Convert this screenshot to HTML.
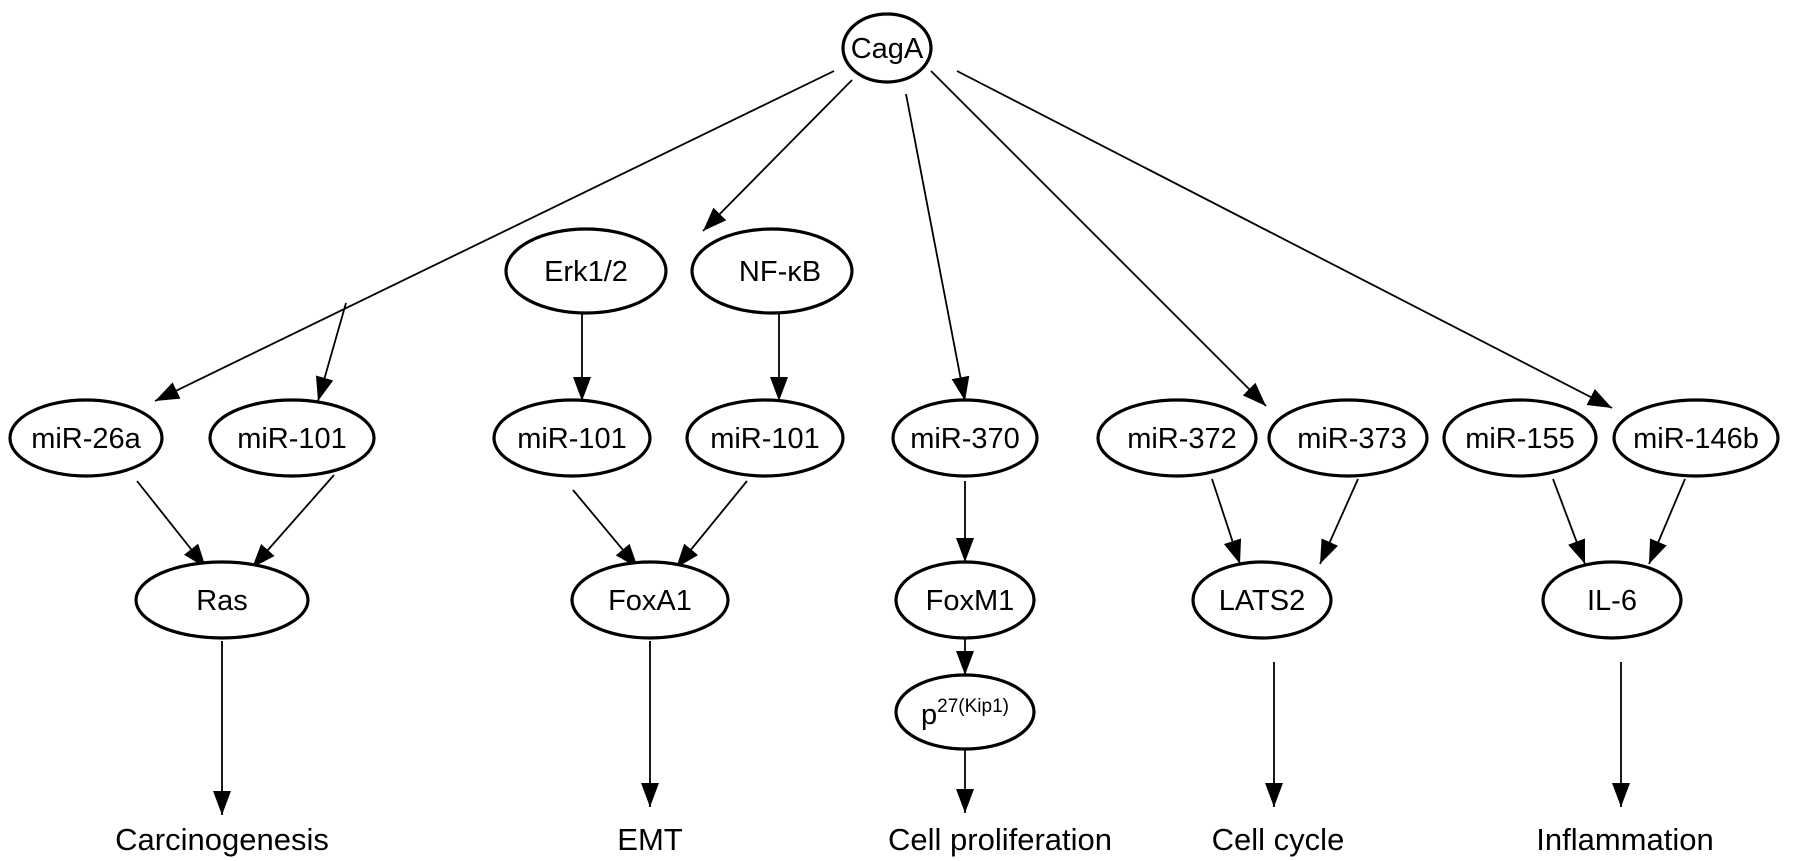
<!DOCTYPE html>
<html><head><meta charset="utf-8"><style>
html,body{margin:0;padding:0;background:#fff;}
svg{display:block}
text{font-family:"Liberation Sans Narrow","Liberation Sans",sans-serif;fill:#000;text-anchor:middle;}
.n{font-size:29px}
.l{font-size:31px}
ellipse{fill:#fff;stroke:#000;stroke-width:3.2}
line{stroke:#000;stroke-width:1.8}
</style></head><body>
<svg width="1795" height="861" viewBox="0 0 1795 861" xmlns="http://www.w3.org/2000/svg">
<defs>
<marker id="b" viewBox="0 0 10 10" refX="10" refY="5" markerWidth="24" markerHeight="18" markerUnits="userSpaceOnUse" orient="auto" preserveAspectRatio="none"><path d="M0,0L10,5L0,10z" fill="#000"/></marker></defs>
<g marker-end="url(#b)">
<line x1="834" y1="71" x2="155" y2="401"/>
<line x1="346" y1="303" x2="318" y2="401"/>
<line x1="852" y1="80" x2="703" y2="231"/>
<line x1="906" y1="94" x2="965" y2="401"/>
<line x1="931" y1="71" x2="1266" y2="406"/>
<line x1="957" y1="71" x2="1612" y2="408"/>
<line x1="582" y1="314" x2="582" y2="401"/>
<line x1="779" y1="314" x2="779" y2="401"/>
<line x1="137" y1="481" x2="206" y2="568"/>
<line x1="334" y1="475" x2="252" y2="568"/>
<line x1="573" y1="490" x2="638" y2="568"/>
<line x1="747" y1="481" x2="676" y2="568"/>
<line x1="965" y1="481" x2="965" y2="562"/>
<line x1="965" y1="637" x2="965" y2="675"/>
<line x1="965" y1="749" x2="965" y2="813"/>
<line x1="222" y1="641" x2="222" y2="815"/>
<line x1="650" y1="641" x2="650" y2="807"/>
<line x1="1212" y1="479" x2="1240" y2="564"/>
<line x1="1358" y1="479" x2="1320" y2="564"/>
<line x1="1274" y1="662" x2="1274" y2="807"/>
<line x1="1553" y1="479" x2="1585" y2="564"/>
<line x1="1685" y1="479" x2="1649" y2="564"/>
<line x1="1621" y1="662" x2="1621" y2="807"/>
</g>
<ellipse cx="887" cy="48" rx="44" ry="34"/><text class="n" x="887" y="58">CagA</text>
<ellipse cx="586" cy="271" rx="80" ry="42"/><text class="n" x="586" y="281">Erk1/2</text>
<ellipse cx="772" cy="271" rx="80" ry="42"/><text class="n" x="780" y="281">NF-κB</text>
<ellipse cx="86" cy="438" rx="76" ry="38"/><text class="n" x="86" y="448">miR-26a</text>
<ellipse cx="292" cy="438" rx="82" ry="38"/><text class="n" x="292" y="448">miR-101</text>
<ellipse cx="572" cy="438" rx="78" ry="38"/><text class="n" x="572" y="448">miR-101</text>
<ellipse cx="765" cy="438" rx="78" ry="38"/><text class="n" x="765" y="448">miR-101</text>
<ellipse cx="965" cy="438" rx="72" ry="38"/><text class="n" x="965" y="448">miR-370</text>
<ellipse cx="1177" cy="438" rx="79" ry="38"/><text class="n" x="1182" y="448">miR-372</text>
<ellipse cx="1348" cy="438" rx="79" ry="38"/><text class="n" x="1352" y="448">miR-373</text>
<ellipse cx="1520" cy="438" rx="76" ry="38"/><text class="n" x="1520" y="448">miR-155</text>
<ellipse cx="1696" cy="438" rx="82" ry="38"/><text class="n" x="1696" y="448">miR-146b</text>
<ellipse cx="222" cy="600" rx="86" ry="38"/><text class="n" x="222" y="610">Ras</text>
<ellipse cx="650" cy="600" rx="78" ry="38"/><text class="n" x="650" y="610">FoxA1</text>
<ellipse cx="965" cy="600" rx="69" ry="38"/><text class="n" x="970" y="610">FoxM1</text>
<ellipse cx="965" cy="712" rx="69" ry="37"/><text class="n" x="965" y="724">p<tspan font-size="19" dy="-12">27(Kip1)</tspan></text>
<ellipse cx="1262" cy="600" rx="69" ry="38"/><text class="n" x="1262" y="610">LATS2</text>
<ellipse cx="1612" cy="600" rx="69" ry="38"/><text class="n" x="1612" y="610">IL-6</text>
<text class="l" x="222" y="850">Carcinogenesis</text>
<text class="l" x="650" y="850">EMT</text>
<text class="l" x="1000" y="850">Cell proliferation</text>
<text class="l" x="1278" y="850">Cell cycle</text>
<text class="l" x="1625" y="850">Inflammation</text>
</svg>
</body></html>
